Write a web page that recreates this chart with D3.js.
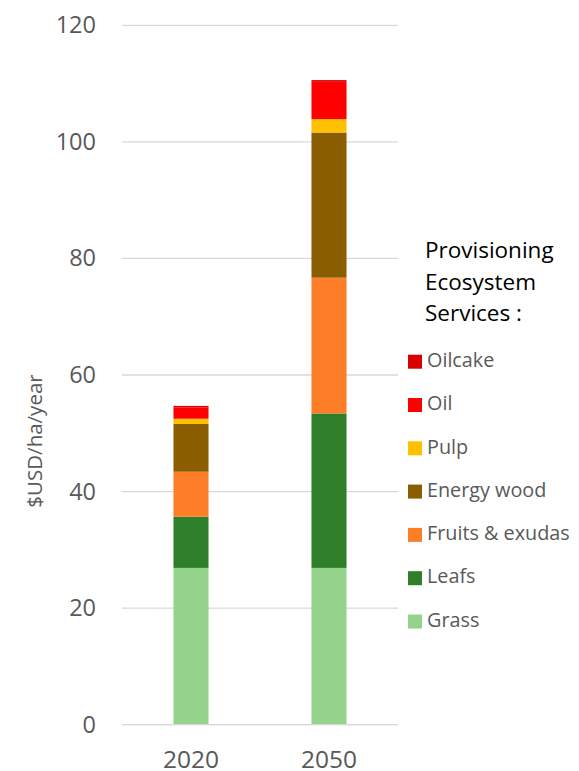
<!DOCTYPE html>
<html><head><meta charset="utf-8">
<script src="https://cdn.jsdelivr.net/npm/d3@7"></script>
<style>body{margin:0;background:#fff}svg{display:block}</style>
</head><body>
<script>
const categories = ["2020", "2050"];
const seriesNames = ["Grass", "Leafs", "Fruits & exudas", "Energy wood", "Pulp", "Oil", "Oilcake"];
const grass   = [26.9, 26.9];
const leafs   = [8.8, 26.5];
const fruits  = [7.7, 23.3];
const energy  = [8.2, 24.9];
const pulp    = [0.9, 2.3];
const oil     = [1.9, 6.4];
const oilcake = [0.3, 0.3];
const colors = ["#94d38b", "#2f7f2a", "#fd7e26", "#8a5d00", "#ffc000", "#ff0000", "#d90000"];
const yTicks = [0, 20, 40, 60, 80, 100, 120];
const legendTitle = ["Provisioning", "Ecosystem", "Services :"];
const yLabel = "$USD/ha/year";

const W = 579, H = 771;
const svg = d3.select("body").append("svg").attr("width", W).attr("height", H);
const font = "'Open Sans', sans-serif";

const values = [grass, leafs, fruits, energy, pulp, oil, oilcake];
const table = categories.map((c, i) => {
  const o = {cat: c};
  seriesNames.forEach((s, j) => o[s] = values[j][i]);
  return o;
});
const stack = d3.stack().keys(seriesNames)(table);

const x = d3.scaleBand().domain(categories).range([122, 398]).paddingInner(0.746).paddingOuter(0.373);
const y = d3.scaleLinear().domain([0, 120]).range([724.7, 25.3]);

// gridlines
const grid = svg.append("g");
grid.selectAll("line").data(yTicks).join("line")
  .attr("x1", 122).attr("x2", 398)
  .attr("y1", d => y(d)).attr("y2", d => y(d))
  .attr("stroke", "#d9d9d9").attr("stroke-width", 1.3);

// y axis labels
const yAxis = svg.append("g").attr("transform", "translate(96,0)")
  .call(d3.axisLeft(y).tickValues(yTicks).tickSize(0).tickPadding(0));
yAxis.select(".domain").remove();
yAxis.selectAll("text").attr("font-family", font).attr("font-size", 23.5).attr("fill", "#595959");

// bars
svg.append("g").selectAll("g").data(stack).join("g")
  .attr("fill", (d, i) => colors[i])
  .selectAll("rect").data(d => d).join("rect")
  .attr("x", d => x(d.data.cat))
  .attr("width", x.bandwidth())
  .attr("y", d => y(d[1]))
  .attr("height", d => y(d[0]) - y(d[1]));

// baseline
svg.append("line").attr("x1", 122).attr("x2", 398).attr("y1", y(0)).attr("y2", y(0))
  .attr("stroke", "#d9d9d9").attr("stroke-width", 1.3);

// x axis
const xAxis = svg.append("g").attr("transform", `translate(0,${y(0)})`)
  .call(d3.axisBottom(x).tickSize(0).tickPadding(26));
xAxis.select(".domain").remove();
xAxis.selectAll("text").attr("font-family", font).attr("font-size", 24.5).attr("fill", "#595959");

// y label
svg.append("text").attr("transform", "translate(37,441) rotate(-90)")
  .attr("text-anchor", "middle").attr("dominant-baseline", "middle")
  .attr("font-family", "'Liberation Sans Narrow', 'Open Sans', sans-serif").attr("font-size", 20.5).attr("fill", "#595959")
  .text(yLabel);

// legend
const lg = svg.append("g");
lg.selectAll("text.title").data(legendTitle).join("text").attr("class", "title")
  .attr("x", 425).attr("y", (d, i) => 252 + i * 31.6)
  .attr("dominant-baseline", "middle")
  .attr("font-family", font).attr("font-size", 22.5).attr("fill", "#000")
  .text(d => d);
const legendOrder = seriesNames.map((s, i) => i).reverse();
const items = lg.selectAll("g.item").data(legendOrder).join("g").attr("class", "item")
  .attr("transform", (d, k) => `translate(408,${361.7 + k * 43.3})`);
items.append("rect").attr("x", 0).attr("y", -7).attr("width", 14).attr("height", 14)
  .attr("fill", d => colors[d]);
items.append("text").attr("x", 19).attr("y", 0).attr("dominant-baseline", "middle")
  .attr("font-family", font).attr("font-size", 19.8).attr("fill", "#595959")
  .text(d => seriesNames[d]);
</script>
</body></html>
